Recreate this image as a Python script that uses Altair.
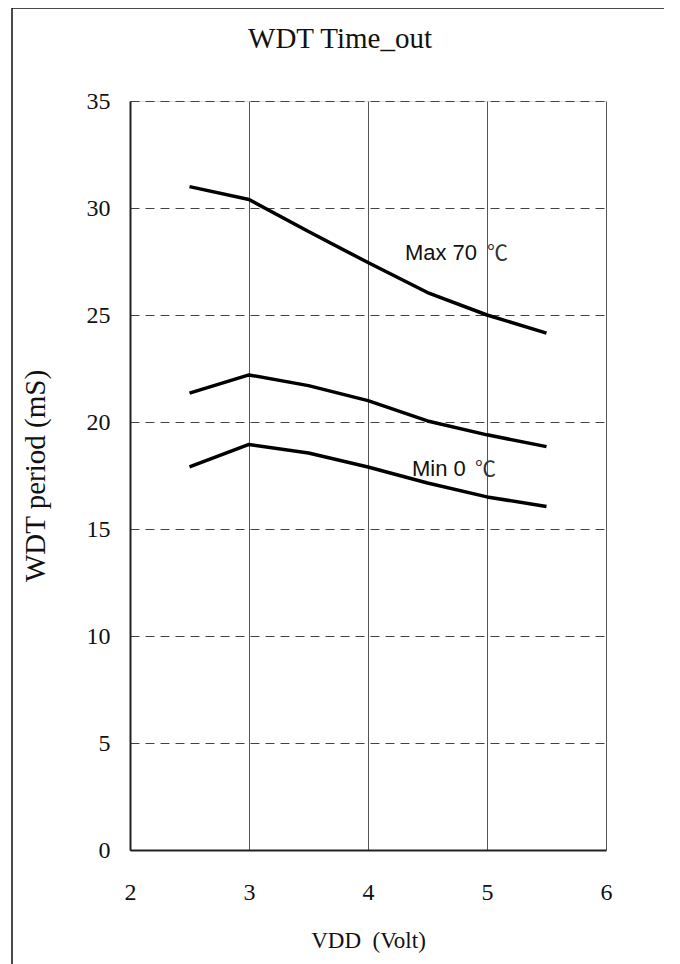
import altair as alt
import pandas as pd

vdd = [2.5, 3.0, 3.5, 4.0, 4.5, 5.0, 5.5]
max70 = [31.0, 30.4, 28.9, 27.45, 26.05, 25.0, 24.15]
typ = [21.35, 22.2, 21.7, 21.0, 20.05, 19.4, 18.85]
min0 = [17.9, 18.95, 18.55, 17.9, 17.15, 16.5, 16.05]

x_ticks = [2, 3, 4, 5, 6]
y_ticks = [0, 5, 10, 15, 20, 25, 30, 35]

rows = []
for name, vals in [("Max 70", max70), ("Typ", typ), ("Min 0", min0)]:
    for v, p in zip(vdd, vals):
        rows.append({"series": name, "vdd": v, "period": p})
df = pd.DataFrame(rows)

lab_df = pd.DataFrame({
    "txt": ["Max 70", "Min 0"],
    "x": [4.31, 4.37],
    "y": [27.55, 17.5],
})
deg_df = pd.DataFrame({
    "txt": ["℃", "℃"],
    "x": [5.0, 4.9],
    "y": [27.55, 17.5],
})

SERIF = "Liberation Serif"

xs = alt.Scale(domain=[2, 6], nice=False)
ys = alt.Scale(domain=[0, 35], nice=False)

lines = alt.Chart(df).mark_line(color="black", strokeWidth=3.5, strokeJoin="round").encode(
    x=alt.X("vdd:Q", scale=xs,
            axis=alt.Axis(values=x_ticks, format="d", title="VDD\u00a0\u00a0(Volt)", grid=True,
                          gridColor="#555", gridWidth=1, domainColor="#222", domainWidth=2,
                          ticks=False, labelFlush=False, labelFont=SERIF, labelFontSize=24,
                          labelColor="#111", labelPadding=30, titleFont=SERIF, titleFontSize=23,
                          titleFontWeight="normal", titleColor="#111", titleY=90,
                          titleBaseline="middle")),
    y=alt.Y("period:Q", scale=ys,
            axis=alt.Axis(values=y_ticks, title="WDT period (mS)", grid=True, gridColor="#444",
                          gridWidth=1, gridDash=[9, 6], domainColor="#222", domainWidth=2,
                          ticks=False, labelFlush=False, labelFont=SERIF, labelFontSize=24,
                          labelColor="#111", labelPadding=20, titleFont=SERIF, titleFontSize=29,
                          titleFontWeight="normal", titleColor="#111", titleX=-95,
                          titleBaseline="middle", titleAngle=-90)),
    detail="series:N",
)

labels = alt.Chart(lab_df).mark_text(font="Liberation Sans", fontSize=22, align="left",
                                     baseline="alphabetic", color="#111").encode(
    x=alt.X("x:Q", scale=xs), y=alt.Y("y:Q", scale=ys), text="txt:N")

degs = alt.Chart(deg_df).mark_text(font="Noto Sans CJK SC", fontSize=21, align="left",
                                   baseline="alphabetic", color="#333").encode(
    x=alt.X("x:Q", scale=xs), y=alt.Y("y:Q", scale=ys), text="txt:N")

border = alt.Chart(pd.DataFrame({"a": [0]})).mark_rect(
    filled=False, stroke="#111", strokeWidth=1.5, clip=False).encode(
    x=alt.value(-118), x2=alt.value(542), y=alt.value(-93), y2=alt.value(900))

chart = alt.layer(lines, labels, degs, border).properties(
    width=476, height=749,
    title=alt.TitleParams("WDT Time_out", font=SERIF, fontSize=29, fontWeight="normal",
                          color="#111", anchor="middle", frame="group", dx=-28, offset=-70,
                          baseline="alphabetic"),
    autosize=alt.AutoSizeParams(type="none"),
    padding={"left": 122, "top": 93, "right": 58, "bottom": 115},
).configure_view(stroke="#444", strokeWidth=1.2).configure(background="white")

chart.save("out.html", embed_options={"renderer": "svg", "actions": False})
